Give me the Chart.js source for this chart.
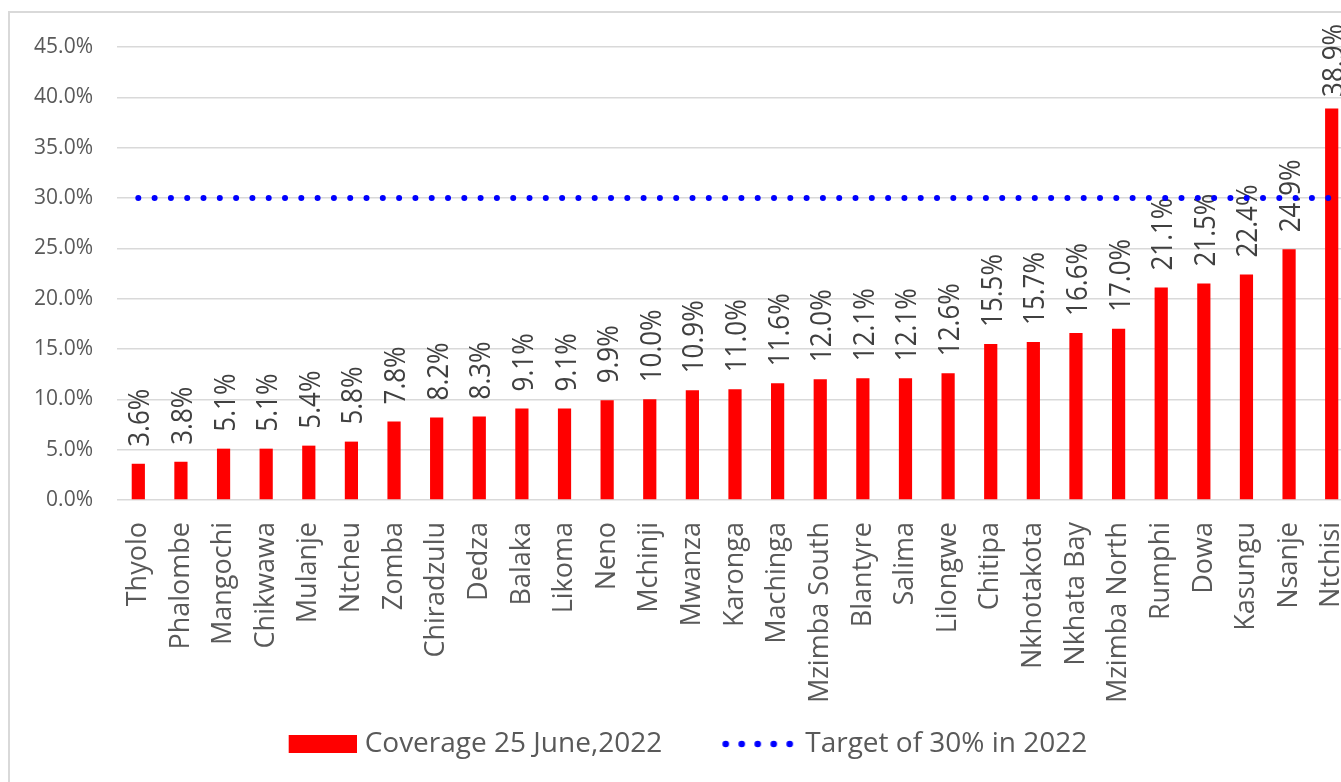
<!DOCTYPE html>
<html><head><meta charset="utf-8">
<script src="https://cdn.jsdelivr.net/npm/chart.js@4.4.0/dist/chart.umd.min.js"></script>
<style>
html,body{margin:0;padding:0;background:#fff;overflow:hidden;width:1341px;height:782px;}
#frame{position:absolute;left:8px;top:11px;width:1400px;height:800px;border:2px solid #d9d9d9;box-sizing:border-box;}
#wrap{position:absolute;left:0;top:0;width:1353px;height:782px;}
</style></head><body>
<div id="frame"></div>
<div id="wrap"><canvas id="c" width="1353" height="782"></canvas></div>
<script>
const districts = ["Thyolo","Phalombe","Mangochi","Chikwawa","Mulanje","Ntcheu","Zomba","Chiradzulu","Dedza","Balaka","Likoma","Neno","Mchinji","Mwanza","Karonga","Machinga","Mzimba South","Blantyre","Salima","Lilongwe","Chitipa","Nkhotakota","Nkhata Bay","Mzimba North","Rumphi","Dowa","Kasungu","Nsanje","Ntchisi"];
const coverage = [3.6,3.8,5.1,5.1,5.4,5.8,7.8,8.2,8.3,9.1,9.1,9.9,10.0,10.9,11.0,11.6,12.0,12.1,12.1,12.6,15.5,15.7,16.6,17.0,21.1,21.5,22.4,24.9,38.9];
const target = [30,30,30,30,30,30,30,30,30,30,30,30,30,30,30,30,30,30,30,30,30,30,30,30,30,30,30,30,30];
const yTicks = [0,5,10,15,20,25,30,35,40,45];
const seriesNames = ["Coverage 25 June,2022","Target of 30% in 2022"];

const FONT = "'Open Sans', sans-serif";
const TXT = '#595959';

function makeBox(){
  const c=document.createElement('canvas'); c.width=131; c.height=18;
  const x=c.getContext('2d'); x.fillStyle='#ff0000'; x.fillRect(63,0,68,18); return c;
}
function makeDots(){
  const c=document.createElement('canvas'); c.width=131; c.height=8;
  const x=c.getContext('2d'); x.fillStyle='#0000ff';
  for(let i=0;i<5;i++){x.beginPath();x.arc(123.5-i*16,4,3.3,0,Math.PI*2);x.fill();}
  return c;
}

const barLabels = {
  id:'barLabels',
  afterDatasetDraw(chart,args){
    if(args.index!==0) return;
    const ctx=chart.ctx; const meta=args.meta;
    ctx.save();
    ctx.font = "26px "+FONT;
    ctx.fillStyle='#404040';
    ctx.textAlign='left'; ctx.textBaseline='alphabetic';
    meta.data.forEach((el,i)=>{
      const txt=coverage[i].toFixed(1)+'%';
      const w=ctx.measureText(txt).width;
      let start=el.y-17;
      if(start-w<24) start=24+w;
      ctx.save();
      ctx.translate(el.x+11, start);
      ctx.rotate(-Math.PI/2);
      ctx.scale(1,1.12);
      ctx.fillText(txt,0,0);
      ctx.restore();
    });
    ctx.restore();
  }
};

const legendPlace = {
  id:'legendPlace',
  afterLayout(chart){
    const lg=chart.legend; if(!lg) return;
    const dx=-17; lg.left+=dx; lg.right+=dx;
    const h=lg.bottom-lg.top; lg.top=720; lg.bottom=720+h;
  }
};

new Chart(document.getElementById('c'),{
  data:{
    labels:districts,
    datasets:[
      {type:'bar',label:seriesNames[0],data:coverage,backgroundColor:'#ff0000',barPercentage:0.31,categoryPercentage:1,order:1},
      {type:'line',label:seriesNames[1],data:target,borderColor:'#0000ff',borderWidth:6,borderDash:[0,16.3],borderCapStyle:'round',pointRadius:0,fill:false,order:0,tension:0}
    ]
  },
  options:{
    responsive:false,
    animation:false,
    devicePixelRatio:1,
    layout:{padding:{left:0,right:0,top:47,bottom:29}},
    plugins:{
      tooltip:{enabled:false},
      legend:{
        position:'bottom',
        labels:{
          usePointStyle:true,
          pointStyleWidth:119,
          padding:10,
          color:TXT,
          font:{family:FONT,size:28},
          generateLabels(){
            return [
              {text:seriesNames[0],pointStyle:makeBox(),fillStyle:'#ff0000',strokeStyle:'transparent',lineWidth:0,datasetIndex:0,fontColor:TXT},
              {text:seriesNames[1],pointStyle:makeDots(),fillStyle:'#0000ff',strokeStyle:'transparent',lineWidth:0,datasetIndex:1,fontColor:TXT}
            ];
          }
        }
      }
    },
    scales:{
      x:{
        grid:{display:false},
        border:{display:false},
        ticks:{color:TXT,font:{family:FONT,size:27},minRotation:90,maxRotation:90,autoSkip:false,padding:14},
        afterFit(s){s.height=205;s.paddingLeft=0;s.paddingRight=0;}
      },
      y:{
        min:0,max:45,
        afterBuildTicks(s){s.ticks=yTicks.map(v=>({value:v}));},
        grid:{color:'#d9d9d9',lineWidth:1.5,drawTicks:false},
        border:{display:false},
        ticks:{color:TXT,font:{family:FONT,size:21},padding:24,callback:v=>v.toFixed(1)+'%'},
        afterFit(s){s.width=117;}
      }
    }
  },
  plugins:[barLabels,legendPlace]
});
</script>
</body></html>
